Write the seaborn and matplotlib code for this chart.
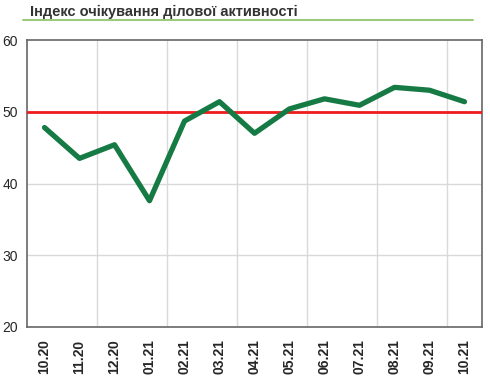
import matplotlib
matplotlib.use('Agg')

import pandas as pd
import matplotlib.pyplot as plt
import seaborn as sns
from matplotlib.lines import Line2D

# Data
months = ['10.20', '11.20', '12.20', '01.21', '02.21', '03.21', '04.21',
          '05.21', '06.21', '07.21', '08.21', '09.21', '10.21']
index_values = [47.8, 43.5, 45.4, 37.6, 48.7, 51.4, 47.0,
                50.4, 51.8, 50.9, 53.4, 53.0, 51.4]
threshold = 50

df = pd.DataFrame({'month': months, 'value': index_values})
df['pos'] = range(len(df))

sns.set_style('white')
plt.rcParams['font.family'] = ['Liberation Sans', 'DejaVu Sans']

fig = plt.figure(figsize=(4.9, 3.83), dpi=100)
ax = fig.add_axes([27 / 490, 1 - 327 / 383, 455 / 490, 287 / 383])

sns.lineplot(data=df, x='pos', y='value', color='#157a44', linewidth=3.8,
             ax=ax, zorder=4)
ax.axhline(threshold, color='#ee1c1c', linewidth=2, zorder=3)

ax.set_xlim(-0.5, len(months) - 0.5)
ax.set_ylim(20, 60)
ax.set_yticks([20, 30, 40, 50, 60])
ax.set_xticks(df['pos'])
ax.set_xticklabels(months, rotation=90, fontweight='bold', fontsize=10)
ax.tick_params(axis='y', labelsize=10, length=0, pad=6.5)
ax.tick_params(axis='x', length=0, pad=9)
ax.set_xlabel('')
ax.set_ylabel('')

# gridlines: horizontal at each y tick, vertical every two months
for y in [30, 40, 50]:
    ax.axhline(y, color='#d9d9d9', linewidth=1, zorder=1)
for x in [1.5, 3.5, 5.5, 7.5, 9.5, 11.5]:
    ax.axvline(x, color='#d9d9d9', linewidth=1, zorder=1)

for s in ax.spines.values():
    s.set_color('#666666')
    s.set_linewidth(1.2)

# title with green underline
fig.text(30 / 490, 1 - 12 / 383, 'Індекс очікування ділової активності',
         fontsize=10.5, fontweight='bold', color='#333333', va='center')
fig.add_artist(Line2D([23 / 490, 473 / 490], [1 - 20 / 383, 1 - 20 / 383],
                      color='#9cc97c', linewidth=1.5))

plt.savefig('out.png', dpi=100)
plt.close()
